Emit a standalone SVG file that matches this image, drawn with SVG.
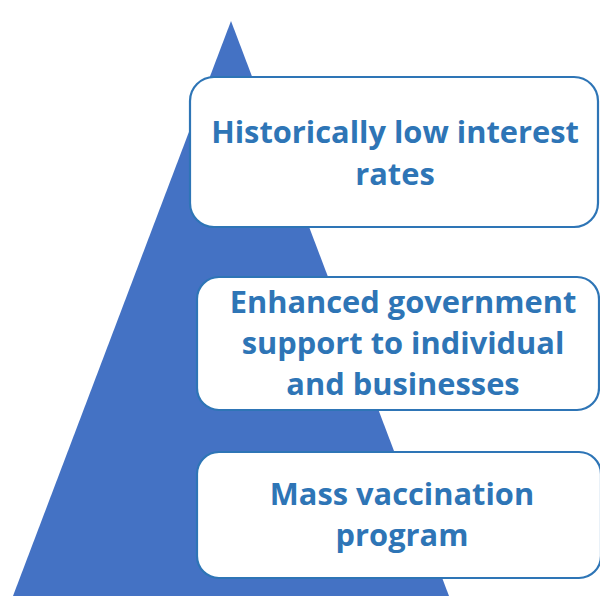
<svg xmlns="http://www.w3.org/2000/svg" width="600" height="597" viewBox="0 0 600 597">
<style>
.box{fill:#fff;stroke:#2E75B6;stroke-width:2.2}
.t{font-family:"Open Sans","Liberation Sans",sans-serif;font-weight:bold;font-size:30.8px;fill:#2E75B6;text-anchor:middle}
</style>
<rect width="600" height="597" fill="#fff"/>
<g id="pyramid"><polygon points="231,21 13,596 449,596" fill="#4472C4"/></g>
<g id="connectors"></g>
<g id="node1">
<rect class="box" x="190" y="77" width="408" height="150" rx="24"/>
<text class="t" x="395" y="143">Historically low interest</text>
<text class="t" x="395" y="185">rates</text>
</g>
<g id="node2">
<rect class="box" x="197" y="277" width="402" height="133" rx="22"/>
<text class="t" x="403" y="313">Enhanced government</text>
<text class="t" x="403" y="354">support to individual</text>
<text class="t" x="403" y="395">and businesses</text>
</g>
<g id="node3">
<rect class="box" x="197" y="452" width="404" height="126" rx="22"/>
<text class="t" x="402" y="505">Mass vaccination</text>
<text class="t" x="402" y="546">program</text>
</g>
</svg>
